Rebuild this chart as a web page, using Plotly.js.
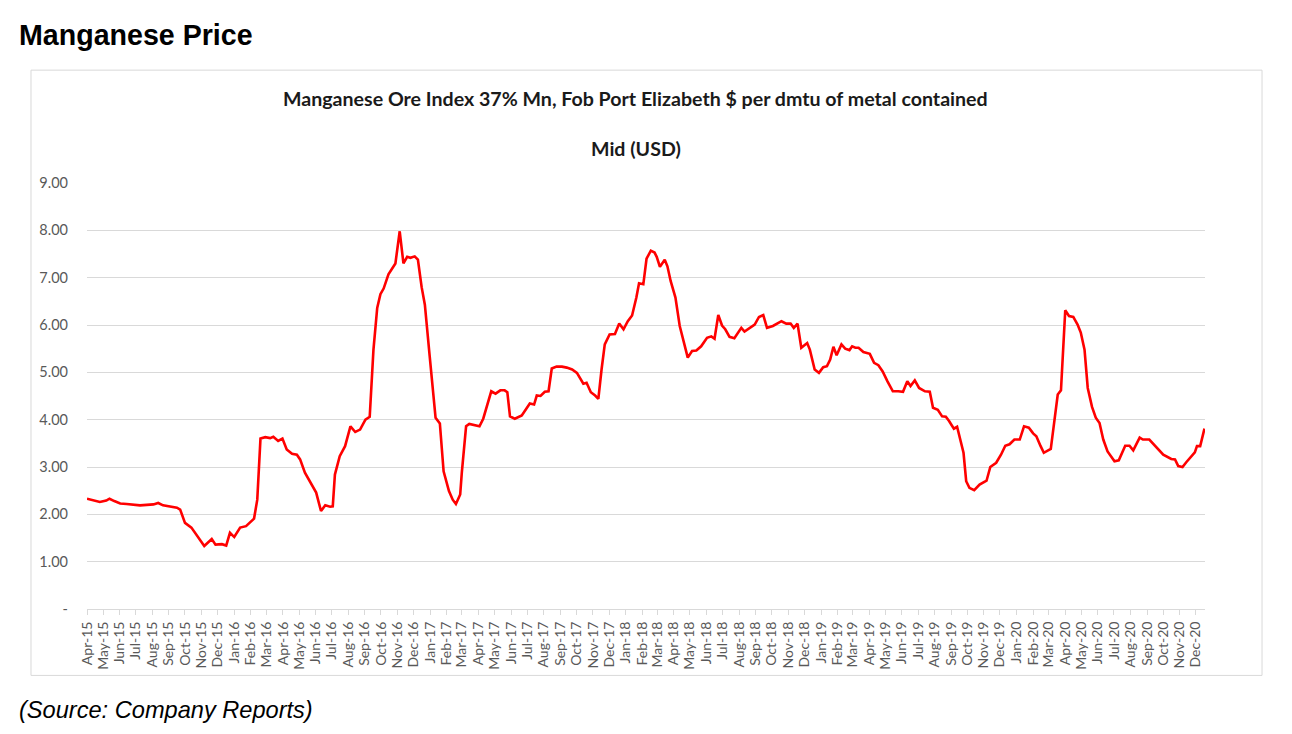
<!DOCTYPE html>
<html>
<head>
<meta charset="utf-8">
<script src="https://cdn.plot.ly/plotly-3.0.1.min.js"></script>
<style>
  html, body { margin: 0; padding: 0; background: #ffffff; }
  #chart { width: 1292px; height: 734px; }
</style>
</head>
<body>
<div id="chart"></div>
<script>
// ---- Data ----
const pageTitle = "Manganese Price";
const chartTitleLine1 = "Manganese Ore Index 37% Mn, Fob Port Elizabeth $ per dmtu of metal contained";
const chartTitleLine2 = "Mid (USD)";
const sourceNote = "(Source: Company Reports)";

const yTickValues = [0, 1, 2, 3, 4, 5, 6, 7, 8, 9];
const yTickLabels = ["-", "1.00", "2.00", "3.00", "4.00", "5.00", "6.00", "7.00", "8.00", "9.00"];

const dates = [
  "2015-04-01","2015-04-16","2015-04-25","2015-05-07","2015-05-13","2015-05-22","2015-06-02","2015-06-14","2015-06-26","2015-07-09",
  "2015-08-03","2015-08-12","2015-08-21","2015-09-07","2015-09-16","2015-09-22","2015-10-01","2015-10-13","2015-10-22","2015-10-28",
  "2015-11-06","2015-11-20","2015-11-27","2015-12-09","2015-12-17","2015-12-24","2016-01-01","2016-01-12","2016-01-23","2016-02-07",
  "2016-02-13","2016-02-19","2016-02-28","2016-03-08","2016-03-14","2016-03-23","2016-03-31","2016-04-08","2016-04-18","2016-04-27",
  "2016-05-03","2016-05-12","2016-05-21","2016-06-02","2016-06-11","2016-06-19","2016-06-28","2016-07-03","2016-07-07","2016-07-16",
  "2016-07-26","2016-08-05","2016-08-14","2016-08-23","2016-09-02","2016-09-10","2016-09-17","2016-09-24","2016-09-30","2016-10-06",
  "2016-10-15","2016-10-25","2016-10-28","2016-11-05","2016-11-12","2016-11-19","2016-11-25","2016-12-03","2016-12-09","2016-12-16",
  "2016-12-22","2016-12-31","2017-01-11","2017-01-19","2017-01-26","2017-02-05","2017-02-12","2017-02-18","2017-02-26","2017-03-01",
  "2017-03-09","2017-03-15","2017-03-24","2017-04-03","2017-04-10","2017-04-19","2017-04-25","2017-05-03","2017-05-12","2017-05-20",
  "2017-05-25","2017-05-30","2017-06-08","2017-06-21","2017-06-29","2017-07-06","2017-07-14","2017-07-19","2017-07-26","2017-08-03",
  "2017-08-10","2017-08-16","2017-08-25","2017-09-04","2017-09-13","2017-09-23","2017-10-02","2017-10-08","2017-10-14","2017-10-20",
  "2017-10-28","2017-11-05","2017-11-11","2017-11-17","2017-11-23","2017-12-02","2017-12-12","2017-12-20","2017-12-28","2018-01-05",
  "2018-01-13","2018-01-21","2018-01-26","2018-02-03","2018-02-09","2018-02-17","2018-02-24","2018-02-28","2018-03-06","2018-03-15",
  "2018-03-20","2018-03-26","2018-04-04","2018-04-12","2018-04-20","2018-04-27","2018-05-05","2018-05-13","2018-05-22","2018-06-02",
  "2018-06-10","2018-06-16","2018-06-23","2018-06-30","2018-07-06","2018-07-14","2018-07-23","2018-08-05","2018-08-11","2018-08-20",
  "2018-08-30","2018-09-07","2018-09-15","2018-09-22","2018-10-03","2018-10-19","2018-10-28","2018-11-05","2018-11-11","2018-11-18",
  "2018-11-25","2018-12-06","2018-12-11","2018-12-20","2018-12-28","2019-01-05","2019-01-12","2019-01-18","2019-01-24","2019-01-30",
  "2019-02-08","2019-02-15","2019-02-23","2019-02-28","2019-03-06","2019-03-12","2019-03-21","2019-04-02","2019-04-10","2019-04-18",
  "2019-04-26","2019-05-05","2019-05-15","2019-05-25","2019-06-03","2019-06-11","2019-06-17","2019-06-25","2019-07-03","2019-07-14",
  "2019-07-23","2019-07-29","2019-08-07","2019-08-15","2019-08-22","2019-08-28","2019-09-06","2019-09-12","2019-09-18","2019-09-24",
  "2019-09-29","2019-10-05","2019-10-14","2019-10-24","2019-11-06","2019-11-13","2019-11-24","2019-12-03","2019-12-11","2019-12-19",
  "2019-12-28","2020-01-07","2020-01-15","2020-01-24","2020-02-01","2020-02-07","2020-02-15","2020-02-21","2020-02-29","2020-03-05",
  "2020-03-12","2020-03-18","2020-03-24","2020-04-01","2020-04-08","2020-04-16","2020-04-24","2020-04-30","2020-05-07","2020-05-13",
  "2020-05-21","2020-05-28","2020-06-04","2020-06-11","2020-06-19","2020-07-02","2020-07-10","2020-07-22","2020-07-30","2020-08-06",
  "2020-08-18","2020-08-24","2020-09-05","2020-09-16","2020-10-01","2020-10-16","2020-10-23","2020-10-29","2020-11-06","2020-11-13",
  "2020-11-22","2020-11-29","2020-12-03","2020-12-09","2020-12-17"
];

const midPrices = [
  2.33,2.28,2.26,2.29,2.33,2.28,2.23,2.22,2.20,2.19,
  2.21,2.24,2.19,2.16,2.14,2.10,1.82,1.72,1.57,1.47,
  1.33,1.48,1.36,1.37,1.34,1.61,1.52,1.72,1.75,1.91,
  2.31,3.60,3.63,3.61,3.64,3.55,3.60,3.37,3.28,3.26,
  3.16,2.88,2.70,2.46,2.07,2.19,2.16,2.17,2.84,3.23,
  3.44,3.86,3.74,3.79,4.00,4.06,5.48,6.36,6.65,6.77,
  7.07,7.24,7.30,7.98,7.30,7.44,7.42,7.45,7.38,6.80,
  6.43,5.34,4.04,3.92,2.91,2.49,2.31,2.22,2.42,2.88,
  3.86,3.91,3.89,3.86,4.02,4.39,4.60,4.55,4.62,4.62,
  4.58,4.07,4.02,4.09,4.23,4.34,4.32,4.51,4.50,4.59,
  4.60,5.08,5.12,5.12,5.10,5.06,4.99,4.88,4.76,4.78,
  4.58,4.51,4.44,5.06,5.59,5.80,5.81,6.03,5.91,6.08,
  6.20,6.58,6.88,6.86,7.40,7.57,7.53,7.44,7.23,7.38,
  7.24,6.93,6.58,5.98,5.62,5.31,5.45,5.46,5.55,5.73,
  5.76,5.71,6.21,5.99,5.91,5.75,5.72,5.94,5.86,5.94,
  6.01,6.17,6.21,5.94,5.98,6.08,6.03,6.03,5.94,6.03,
  5.52,5.62,5.48,5.06,4.99,5.11,5.13,5.27,5.54,5.36,
  5.59,5.50,5.47,5.55,5.52,5.52,5.43,5.39,5.20,5.15,
  5.02,4.81,4.60,4.60,4.59,4.81,4.71,4.83,4.67,4.60,
  4.59,4.25,4.21,4.07,4.06,3.97,3.81,3.85,3.60,3.30,
  2.70,2.56,2.51,2.63,2.71,3.00,3.09,3.26,3.45,3.48,
  3.58,3.58,3.86,3.83,3.71,3.65,3.44,3.30,3.35,3.38,
  4.00,4.53,4.62,6.31,6.19,6.17,6.01,5.84,5.48,4.67,
  4.27,4.04,3.93,3.58,3.33,3.12,3.14,3.45,3.45,3.35,
  3.62,3.58,3.58,3.44,3.26,3.17,3.16,3.02,3.00,3.10,
  3.23,3.31,3.44,3.44,3.81
];

// ---- Chart ----
const trace = {
  type: "scatter",
  mode: "lines",
  x: dates,
  y: midPrices,
  line: { color: "#ff0000", width: 2.6 },
  hoverinfo: "x+y"
};

const xTickFont = { family: "Lato, sans-serif", size: 14, color: "#595959" };
const yTickFont = { family: "Lato, sans-serif", size: 14.5, color: "#595959" };

const layout = {
  width: 1292,
  height: 734,
  paper_bgcolor: "#ffffff",
  plot_bgcolor: "#ffffff",
  margin: { l: 87, r: 87, t: 183, b: 124.5, pad: 0 },
  showlegend: false,
  xaxis: {
    type: "date",
    range: ["2015-04-01", "2020-12-18"],
    tick0: "2015-04-01",
    dtick: "M1",
    tickformat: "%b-%y",
    tickangle: -90,
    ticks: "outside",
    ticklen: 5,
    tickwidth: 1,
    tickcolor: "#d9d9d9",
    showline: true,
    linecolor: "#d9d9d9",
    linewidth: 1,
    showgrid: false,
    zeroline: false,
    tickfont: xTickFont,
    ticklabelstandoff: 1,
    fixedrange: true
  },
  yaxis: {
    range: [0, 9],
    tickvals: yTickValues,
    ticktext: yTickLabels,
    showgrid: true,
    gridcolor: "#d9d9d9",
    gridwidth: 1,
    zeroline: false,
    showline: false,
    ticks: "",
    tickfont: yTickFont,
    ticklabelstandoff: 18,
    fixedrange: true
  },
  shapes: [
    {
      type: "rect", xref: "paper", yref: "paper",
      x0: -0.0501, x1: 1.0510, y0: -0.1559, y1: 1.2649,
      line: { color: "#d9d9d9", width: 1 },
      fillcolor: "rgba(0,0,0,0)",
      layer: "below"
    }
  ],
  annotations: [
    {
      text: "<b>" + pageTitle + "</b>",
      xref: "paper", yref: "paper",
      x: -0.0625, y: 1.347, xanchor: "left", yanchor: "middle",
      showarrow: false,
      font: { family: "'Liberation Sans', Arial, sans-serif", size: 28.6, color: "#000000" }
    },
    {
      text: "<b>" + chartTitleLine1 + "</b>",
      xref: "paper", yref: "paper",
      x: 0.491, y: 1.199, xanchor: "center", yanchor: "middle",
      showarrow: false,
      font: { family: "Lato, sans-serif", size: 19.6, color: "#1a1a1a" }
    },
    {
      text: "<b>" + chartTitleLine2 + "</b>",
      xref: "paper", yref: "paper",
      x: 0.491, y: 1.080, xanchor: "center", yanchor: "middle",
      showarrow: false,
      font: { family: "Lato, sans-serif", size: 19.6, color: "#1a1a1a" }
    },
    {
      text: "<i>" + sourceNote + "</i>",
      xref: "paper", yref: "paper",
      x: -0.0625, y: -0.238, xanchor: "left", yanchor: "middle",
      showarrow: false,
      font: { family: "'Liberation Sans', Arial, sans-serif", size: 23.6, color: "#000000" }
    }
  ]
};

Plotly.newPlot("chart", [trace], layout, { displayModeBar: false, staticPlot: true });
</script>
</body>
</html>
